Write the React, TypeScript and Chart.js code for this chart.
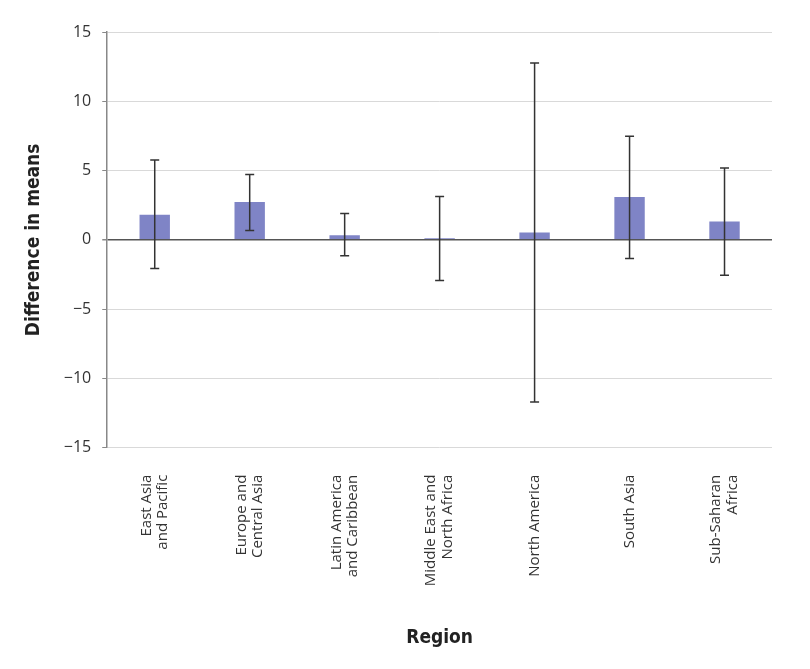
import { useEffect, useRef } from "react";
import { Chart, registerables } from "chart.js";
import type { ChartConfiguration, Plugin } from "chart.js";

Chart.register(...registerables);

const regions = [
  ["East Asia", "and Pacific"],
  ["Europe and", "Central Asia"],
  ["Latin America", "and Caribbean"],
  ["Middle East and", "North Africa"],
  "North America",
  "South Asia",
  ["Sub-Saharan", "Africa"],
];
const diffMeans = [1.82, 2.74, 0.34, 0.12, 0.53, 3.09, 1.33];
const ciLow = [-2.07, 0.68, -1.15, -2.94, -11.7, -1.34, -2.55];
const ciHigh = [5.76, 4.71, 1.9, 3.13, 12.76, 7.48, 5.18];
const yTicks = [-15, -10, -5, 0, 5, 10, 15];

const titleFont = "'DejaVu Sans Condensed', 'Open Sans', sans-serif";

const errorBars: Plugin<"bar"> = {
  id: "errorBars",
  afterDatasetsDraw(chart) {
    const { ctx } = chart;
    const yScale = chart.scales.y;
    const meta = chart.getDatasetMeta(0);
    ctx.save();
    ctx.strokeStyle = "#333333";
    ctx.lineWidth = 1.5;
    meta.data.forEach((bar, i) => {
      const x = bar.x;
      const top = yScale.getPixelForValue(ciHigh[i]);
      const bottom = yScale.getPixelForValue(ciLow[i]);
      const cap = 4.5;
      ctx.beginPath();
      ctx.moveTo(x, top);
      ctx.lineTo(x, bottom);
      ctx.moveTo(x - cap, top);
      ctx.lineTo(x + cap, top);
      ctx.moveTo(x - cap, bottom);
      ctx.lineTo(x + cap, bottom);
      ctx.stroke();
    });
    ctx.restore();
  },
};

// rotated multi-line tick labels are drawn off-centre; pull them back over the tick
const centerLabels: Plugin<"bar"> = {
  id: "centerLabels",
  beforeDraw(chart) {
    const xs: any = chart.scales.x;
    const items = xs.getLabelItems();
    items.forEach((item: any) => {
      if (item._centered) return;
      const lines = Array.isArray(item.label) ? item.label.length : 1;
      item.textOffset -= ((lines - 1) * item.font.lineHeight) / 2;
      item._centered = true;
    });
  },
};

export default function App() {
  const canvasRef = useRef<HTMLCanvasElement>(null);

  useEffect(() => {
    document.body.style.margin = "0";
    if (!canvasRef.current) return;

    const config: ChartConfiguration<"bar"> = {
      type: "bar",
      data: {
        labels: regions as any,
        datasets: [
          {
            label: "Difference in means",
            data: diffMeans,
            backgroundColor: "#7f84c6",
            barPercentage: 0.32,
            categoryPercentage: 1,
          },
        ],
      },
      options: {
        responsive: true,
        maintainAspectRatio: false,
        animation: false,
        layout: { padding: { left: 23, right: 38, top: 32, bottom: 20 } },
        plugins: {
          legend: { display: false },
          tooltip: { enabled: false },
        },
        scales: {
          x: {
            grid: { display: false, drawTicks: false },
            border: { display: false },
            ticks: {
              maxRotation: 90,
              minRotation: 90,
              padding: 27,
              color: "#333333",
              font: { family: "'Open Sans', sans-serif", size: 15, lineHeight: 1.12 },
            },
            title: {
              display: true,
              text: "Region",
              color: "#222222",
              font: { family: titleFont, size: 19, weight: "bold" },
              padding: { top: 13, bottom: 0 },
            },
          },
          y: {
            min: -15,
            max: 15,
            afterBuildTicks(scale) {
              scale.ticks = yTicks.map((v) => ({ value: v }));
            },
            grid: {
              color: (c) => (c.tick && c.tick.value === 0 ? "#555555" : "#d9d9d9"),
              lineWidth: (c) => (c.tick && c.tick.value === 0 ? 1.5 : 1),
              tickColor: "#888888",
              tickLength: 5,
            },
            border: { color: "#888888", width: 1.5 },
            ticks: {
              padding: 11,
              color: "#333333",
              font: { family: "'Open Sans', sans-serif", size: 16 },
              callback: (v) => String(v).replace("-", "\u2212"),
            },
            title: {
              display: true,
              text: "Difference in means",
              color: "#222222",
              font: { family: titleFont, size: 19, weight: "bold" },
              padding: { top: 0, bottom: 7 },
            },
          },
        },
      },
      plugins: [errorBars, centerLabels],
    };

    const chart = new Chart(canvasRef.current, config);
    return () => chart.destroy();
  }, []);

  return (
    <div style={{ width: 810, height: 669, background: "#ffffff" }}>
      <canvas ref={canvasRef} />
    </div>
  );
}
